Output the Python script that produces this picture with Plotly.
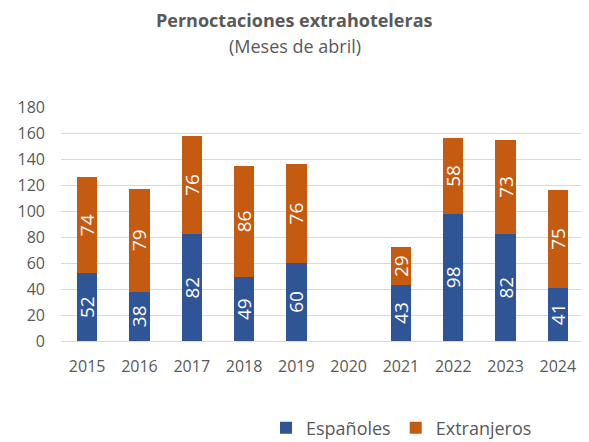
import plotly.graph_objects as go

years = ["2015", "2016", "2017", "2018", "2019", "2020", "2021", "2022", "2023", "2024"]
espanoles = [52, 38, 82, 49, 60, 0, 43, 98, 82, 41]
extranjeros = [74, 79, 76, 86, 76, 0, 29, 58, 73, 75]

def labels(vals):
    return [str(v) if v else "" for v in vals]

FONT = "Open Sans"
# the page body has an 8px margin, so the figure is drawn 8px in from the corner
OFF = 8
W, H = 589 - OFF, 442 - OFF
L, R, T, B = 61 - OFF, 5, 107 - OFF, 101
w_plot = W - L - R
h_plot = H - T - B

def px_x(xpage):
    return (xpage - OFF - L) / w_plot

def px_y(ypage):
    return (H - B - (ypage - OFF)) / h_plot

fig = go.Figure()
fig.add_trace(go.Bar(
    x=years, y=espanoles, name="Españoles",
    marker=dict(color="#2F5597", line=dict(width=0)),
    text=labels(espanoles), textposition="inside", textangle=-90,
    insidetextanchor="middle", constraintext="none",
    textfont=dict(color="white", size=19, family=FONT),
))
fig.add_trace(go.Bar(
    x=years, y=extranjeros, name="Extranjeros",
    marker=dict(color="#C55A11", line=dict(width=0)),
    text=labels(extranjeros), textposition="inside", textangle=-90,
    insidetextanchor="middle", constraintext="none",
    textfont=dict(color="white", size=19, family=FONT),
))
fig.update_layout(
    barmode="stack", bargap=0.61,
    width=W, height=H,
    margin=dict(l=L, r=R, t=T, b=B, autoexpand=False),
    paper_bgcolor="white", plot_bgcolor="white",
    font=dict(family=FONT, color="#595959", size=16),
    showlegend=True,
    legend=dict(orientation="h", x=px_x(266), xanchor="left",
                y=px_y(428), yanchor="middle",
                font=dict(size=18, color="#595959"), traceorder="normal"),
    xaxis=dict(showgrid=False, showline=False, ticks="", automargin=False,
               tickfont=dict(size=16, color="#595959"), ticklabelstandoff=14),
    yaxis=dict(range=[0, 180], dtick=20, showgrid=True, gridcolor="#D9D9D9", gridwidth=1,
               zeroline=True, zerolinecolor="#D9D9D9", zerolinewidth=1, automargin=False,
               tickfont=dict(size=16, color="#595959"), ticks="", ticklabelstandoff=15),
)
for txt, ypage, bold in [("Pernoctaciones extrahoteleras", 20, True), ("(Meses de abril)", 46, False)]:
    fig.add_annotation(
        text=f"<b>{txt}</b>" if bold else txt,
        x=px_x(294.5), y=px_y(ypage),
        xref="paper", yref="paper", xanchor="center", yanchor="middle",
        showarrow=False, font=dict(size=18, color="#595959"),
    )
fig.write_html("out.html")
